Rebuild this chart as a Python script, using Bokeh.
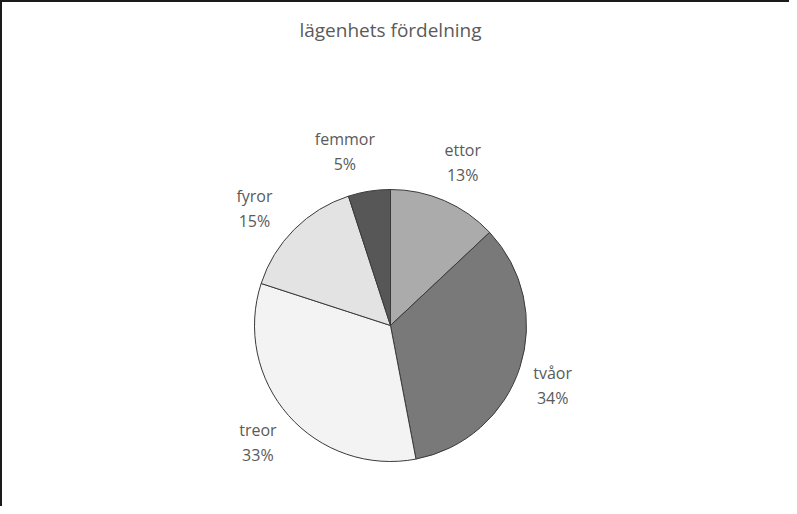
import math
from bokeh.plotting import figure
from bokeh.models import ColumnDataSource, Label
from bokeh.core.properties import value
from bokeh.embed import file_html
from bokeh.resources import INLINE

# ---- data ----
categories = ["ettor", "tvåor", "treor", "fyror", "femmor"]
shares = [13, 34, 33, 15, 5]
colors = ["#ababab", "#797979", "#f3f3f3", "#e3e3e3", "#575757"]
title_text = "lägenhets fördelning"

# ---- layout (label nudges in screen px, like Excel's best-fit placement) ----
nudge_x = [2, -6, 0, -11, -18]
nudge_y = [1, -5, 0, -8, 0]

W, H = 789, 506
R_PX = 136.0
CX, CY = 388.0, 323.0  # pixel position of pie centre (from top-left of figure)

total = float(sum(shares))
starts, ends, mids = [], [], []
acc = 0.0
for s in shares:
    a0 = math.pi / 2 - 2 * math.pi * acc / total
    acc += s
    a1 = math.pi / 2 - 2 * math.pi * acc / total
    starts.append(a0)
    ends.append(a1)
    mids.append((a0 + a1) / 2)

LABEL_R = 1.3
lx = [LABEL_R * math.cos(m) for m in mids]
ly = [LABEL_R * math.sin(m) for m in mids]
pct = [f"{s}%" for s in shares]

src = ColumnDataSource(dict(cat=categories, start=starts, end=ends, color=colors,
                            lx=lx, ly=ly, pct=pct,
                            xo=nudge_x,
                            yo1=[-12 - v for v in nudge_y],
                            yo2=[13 - v for v in nudge_y]))

x0 = -CX / R_PX
x1 = (W - CX) / R_PX
y1 = CY / R_PX
y0 = -(H - CY) / R_PX

p = figure(width=W, height=H, x_range=(x0, x1), y_range=(y0, y1),
           output_backend="svg", toolbar_location=None, min_border=0)
p.axis.visible = False
p.grid.visible = False
p.outline_line_color = None
p.background_fill_color = "white"
p.border_fill_color = "white"
p.styles = {"border-top": "2px solid #1a1a1a", "border-left": "2px solid #1a1a1a"}

p.wedge(x=0, y=0, radius=1.0, start_angle="start", end_angle="end",
        direction="clock", fill_color="color", line_color="#3a3a3a",
        line_width=1, source=src)

common = dict(text_font=value("Open Sans"), text_font_size="16px",
              text_color="#5a5a5a", text_align="center", text_baseline="middle")
p.text(x="lx", y="ly", text="cat", x_offset="xo", y_offset="yo1", source=src, **common)
p.text(x="lx", y="ly", text="pct", x_offset="xo", y_offset="yo2", source=src, **common)

p.add_layout(Label(x=CX, y=H - 27, x_units="screen", y_units="screen",
                   text=title_text, text_font="Open Sans", text_font_size="19px",
                   text_color="#5a5a5a", text_align="center", text_baseline="middle"))

open("out.html", "w").write(file_html(p, INLINE))
